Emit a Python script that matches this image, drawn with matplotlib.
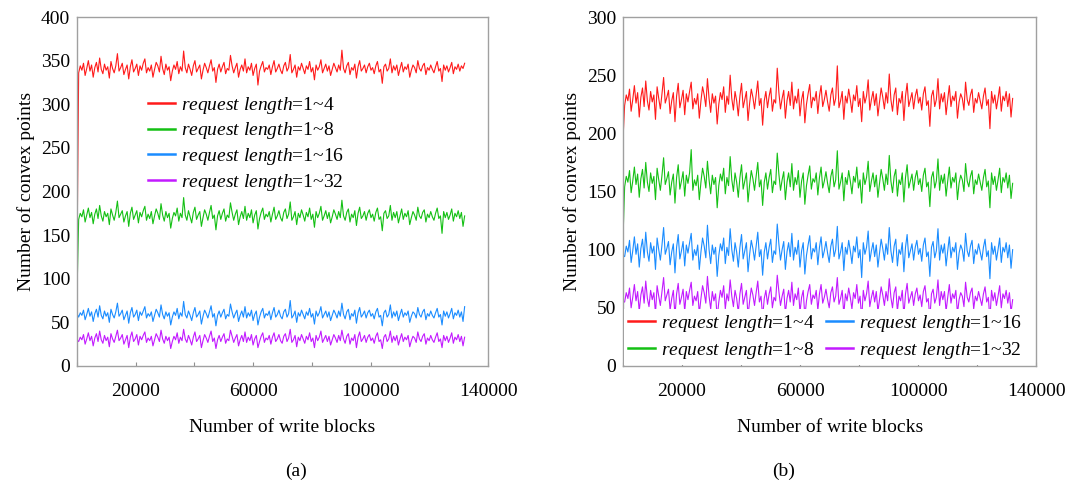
import numpy as np
import matplotlib
matplotlib.use("Agg")
import matplotlib.pyplot as plt

plt.rcParams['font.family'] = ['Liberation Serif', 'DejaVu Serif']
plt.rcParams['mathtext.fontset'] = 'custom'
plt.rcParams['mathtext.it'] = 'Liberation Serif:italic'
plt.rcParams['mathtext.rm'] = 'Liberation Serif'

x_end = 132000

labels = ['1~4', '1~8', '1~16', '1~32']
colors = ['#ff1a1a', '#14c014', '#1a8cff', '#c21aff']

# ---- panel (a) ----
a_red = [130,
 336,344,339,347,333,341,350,338,345,331,342,348,337,353,340,335,346,339,343,330,
 349,341,336,344,358,338,342,347,334,340,345,329,343,351,337,341,346,333,344,339,
 347,352,336,342,338,345,331,340,348,344,337,355,341,334,346,339,343,327,338,345,
 340,349,335,343,338,361,342,336,346,340,333,344,350,337,341,345,329,339,347,342,
 336,344,351,338,342,325,340,346,337,343,348,335,341,339,356,344,336,342,347,331,
 340,345,338,352,336,343,339,347,333,341,346,322,338,344,349,337,342,340,345,334,
 343,350,337,341,346,339,335,344,348,338,342,357,336,340,345,331,343,339,347,341,
 335,344,340,349,337,342,328,345,339,343,351,336,341,346,338,344,333,340,347,342,
 337,345,339,362,341,336,344,348,334,342,339,346,330,343,350,338,341,345,336,343,
 347,339,342,335,344,349,337,340,324,343,346,338,341,352,336,344,339,345,333,341,
 348,337,343,340,346,331,339,345,342,336,350,341,338,344,347,334,342,339,345,340,
 336,343,349,338,341,326,345,339,344,337,342,348,335,343,340,346,338,344,341,347]
a_green = [85,
 168,175,171,179,165,173,181,170,176,163,174,180,169,184,172,166,177,171,175,162,
 180,173,167,176,189,170,174,178,165,172,177,160,175,182,168,173,178,164,176,171,
 178,183,167,174,169,177,163,172,180,175,168,186,173,166,177,170,175,158,169,176,
 172,181,166,175,170,193,173,167,178,171,164,176,182,168,173,177,160,170,179,174,
 167,176,184,169,173,156,172,178,168,175,180,166,173,170,187,176,167,174,179,162,
 171,177,169,183,167,175,170,179,164,173,178,157,169,176,181,168,174,171,177,165,
 174,182,168,172,178,170,166,176,180,169,174,188,167,171,177,162,175,170,179,173,
 166,176,171,181,168,174,159,177,170,175,183,167,172,178,169,176,164,171,179,174,
 168,177,170,190,172,167,176,180,165,174,170,178,161,175,182,169,172,177,167,175,
 179,170,174,166,176,181,168,171,155,175,178,169,172,184,167,176,170,177,164,172,
 180,168,175,171,178,162,170,177,173,167,182,172,169,176,179,165,174,170,177,171,
 167,175,181,169,172,152,177,170,176,168,173,180,166,175,171,178,169,176,160,172]
a_blue = [60,
 56,61,58,64,53,59,66,57,62,51,60,65,56,69,58,54,63,57,61,50,
 65,59,55,62,72,57,60,64,53,58,63,49,61,67,56,59,64,52,62,58,
 63,68,55,60,57,62,51,58,65,61,56,70,59,54,62,57,61,47,56,62,
 58,66,54,61,57,74,59,55,63,58,52,61,67,56,59,63,48,57,64,60,
 55,62,69,56,60,46,58,63,56,61,65,54,59,57,71,62,55,60,64,51,
 58,63,56,68,55,61,57,64,52,59,63,47,56,62,66,55,60,58,63,53,
 61,67,56,59,64,57,54,62,65,56,60,75,55,58,63,50,61,57,64,59,
 54,62,58,66,56,60,48,63,57,61,68,55,59,63,56,62,52,58,64,60,
 55,63,57,72,59,54,62,65,53,60,57,64,49,61,67,56,59,63,55,61,
 64,57,60,54,62,66,56,58,46,61,64,56,59,70,55,62,57,63,52,59,
 65,56,61,58,63,50,57,62,60,55,67,59,56,62,65,53,60,57,63,58,
 55,61,66,56,59,47,63,57,62,55,60,66,54,61,58,64,56,62,51,68]
a_purple = [30,
 28,33,30,36,25,31,38,29,34,23,32,37,28,40,30,26,35,29,33,22,
 37,31,27,34,41,29,32,36,25,30,35,21,33,39,28,31,36,24,34,30,
 35,39,27,32,29,34,23,30,37,33,28,41,31,26,34,29,33,20,28,34,
 30,38,26,33,29,42,31,27,35,30,24,33,39,28,31,35,21,29,36,32,
 27,34,40,28,32,20,30,35,28,33,37,26,31,29,41,34,27,32,36,23,
 30,35,28,39,27,33,29,36,24,31,35,21,28,34,38,27,32,30,35,25,
 33,38,28,31,36,29,26,34,37,28,32,42,27,30,35,22,33,29,36,31,
 26,34,30,38,28,32,21,35,29,33,40,27,31,35,28,34,24,30,36,32,
 27,35,29,41,31,26,34,37,25,32,29,36,21,33,39,28,31,35,27,33,
 36,29,32,26,34,38,28,30,20,33,36,28,31,40,27,34,29,35,24,31,
 37,28,33,30,35,22,29,34,32,27,39,31,28,34,37,25,32,29,35,30,
 27,33,38,28,31,21,35,29,34,27,32,38,26,33,30,36,28,34,23,33]

# ---- panel (b) ----
b_red = [195,
 224,233,228,238,219,229,241,226,235,214,231,239,223,245,228,220,236,227,233,212,
 240,230,221,234,248,226,231,237,217,228,235,210,232,243,222,229,237,216,234,227,
 236,244,221,230,225,234,213,228,240,233,223,247,230,218,234,226,232,208,225,235,
 229,240,218,232,225,250,230,220,236,228,215,232,243,222,229,236,211,226,238,231,
 221,233,245,224,230,207,228,236,222,232,239,219,229,226,256,235,221,230,237,213,
 228,236,224,244,221,232,226,238,215,229,236,209,225,234,242,222,231,228,236,217,
 232,241,223,229,237,227,219,233,239,224,230,258,222,228,236,212,232,226,238,229,
 218,233,228,241,223,230,210,236,226,232,246,220,229,236,224,234,215,227,239,231,
 221,235,226,251,229,219,233,239,216,230,226,236,211,232,243,223,229,235,221,232,
 238,226,231,220,234,240,224,228,206,232,237,223,229,247,221,234,227,235,216,229,
 241,223,232,228,236,213,227,234,230,220,244,229,224,233,238,218,230,226,235,228,
 221,232,239,224,229,204,236,226,233,221,230,240,219,232,228,236,223,234,214,230]
b_green = [110,
 154,163,158,168,149,159,171,156,165,145,161,169,153,175,158,150,166,157,163,143,
 170,160,151,164,179,156,161,167,147,158,165,140,162,173,152,159,167,146,164,157,
 166,186,151,160,155,164,143,158,170,163,153,176,160,148,164,156,162,136,155,165,
 159,170,148,162,155,180,160,150,166,158,145,162,173,152,159,166,141,156,168,161,
 151,163,175,154,160,138,158,166,152,162,169,149,159,156,183,165,151,160,167,143,
 158,166,154,174,151,162,156,168,145,159,166,139,155,164,172,152,161,158,166,147,
 162,171,153,159,167,157,149,163,169,154,160,185,152,158,166,142,162,156,168,159,
 148,163,158,171,153,160,140,166,156,162,176,150,159,166,154,164,145,157,169,161,
 151,165,156,181,159,149,163,169,146,160,156,166,141,162,173,153,159,165,151,162,
 168,156,161,150,164,170,154,158,137,162,167,153,159,178,151,164,157,165,146,159,
 171,153,162,158,166,143,157,164,160,150,174,159,154,163,168,148,160,156,165,158,
 151,162,169,154,159,136,166,156,163,151,160,170,149,162,158,166,153,164,144,157]
b_blue = [95,
 94,103,98,108,89,99,111,96,105,85,101,109,93,115,98,90,106,97,103,83,
 110,100,91,104,119,96,101,107,87,98,105,80,102,113,92,99,107,86,104,97,
 106,114,91,100,95,104,83,98,110,103,93,121,100,88,104,96,102,77,95,105,
 99,110,88,102,95,118,100,90,106,98,85,102,113,92,99,106,81,96,108,101,
 91,103,115,94,100,78,98,106,92,102,109,89,99,96,122,105,91,100,107,83,
 98,106,94,114,91,102,96,108,85,99,106,79,95,104,112,92,101,98,106,87,
 102,111,93,99,107,97,89,103,109,94,100,120,92,98,106,82,102,96,108,99,
 88,103,98,111,93,100,76,106,96,102,116,90,99,106,94,104,85,97,109,101,
 91,105,96,119,99,89,103,109,86,100,96,106,81,102,113,93,99,105,91,102,
 108,96,101,90,104,110,94,98,77,102,107,93,99,118,91,104,97,105,86,99,
 111,93,102,98,106,83,97,104,100,90,114,99,94,103,108,88,100,96,105,98,
 91,102,109,94,99,75,106,96,103,91,100,110,89,102,98,106,93,104,84,100]
b_purple = [55,
 55,63,58,67,50,59,70,56,64,47,61,68,54,73,58,51,65,57,63,45,
 69,60,52,64,76,56,61,66,48,58,65,43,62,71,53,59,66,47,64,57,
 65,72,52,60,56,64,45,58,69,63,54,77,60,49,64,56,62,41,55,65,
 59,69,49,62,56,74,60,51,65,58,46,62,71,53,59,65,43,56,67,61,
 52,63,73,55,60,42,58,65,53,62,68,50,59,56,78,64,52,60,66,45,
 58,65,55,72,52,62,57,67,46,59,65,42,56,64,70,53,61,58,65,48,
 62,70,54,59,66,57,50,63,68,55,60,76,53,58,65,44,62,56,67,59,
 49,63,58,70,54,60,40,65,56,62,73,51,59,65,55,64,47,57,68,61,
 52,64,56,75,59,50,63,68,47,60,56,65,43,62,71,54,59,64,52,62,
 67,56,61,51,64,69,55,58,41,62,66,54,59,74,52,64,57,64,47,59,
 70,54,62,58,65,45,57,63,60,51,72,59,55,63,67,49,60,56,64,58,
 52,62,68,55,59,40,65,56,63,52,60,69,50,62,58,65,54,63,46,57]

x_ticks = [0, 20000, 40000, 60000, 80000, 100000, 120000, 140000]
x_ticklabels = ['', '20000', '', '60000', '', '100000', '', '140000']
a_yticks = [0, 50, 100, 150, 200, 250, 300, 350, 400]
b_yticks = [0, 50, 100, 150, 200, 250, 300]

fig = plt.figure(figsize=(10.79, 4.86), dpi=100)
axA = fig.add_axes([0.0714, 0.247, 0.381, 0.718])
axB = fig.add_axes([0.5774, 0.247, 0.383, 0.718])

fs = 14
def style(ax, yticks):
    for s in ax.spines.values():
        s.set_color('#a0a0a0')
        s.set_linewidth(1.0)
        s.set_zorder(5)
    ax.set_xlim(0, 140000)
    ax.set_ylim(yticks[0], yticks[-1])
    ax.set_xticks(x_ticks)
    ax.set_xticklabels(x_ticklabels)
    ax.set_yticks(yticks)
    ax.tick_params(axis='x', direction='in', length=3, color='#909090',
                   labelsize=fs, pad=12)
    ax.tick_params(axis='y', length=0, labelsize=fs, pad=5)
    ax.set_xlabel('Number of write blocks', fontsize=fs, labelpad=14)
    ax.set_ylabel('Number of convex points', fontsize=fs, labelpad=4)

def plot(ax, series):
    n = len(series[0])
    xs = np.linspace(0, x_end, n)
    handles = []
    for ys, c, lab in zip(series, colors, labels):
        h, = ax.plot(xs, ys, color=c, lw=0.8,
                     label=r'$\mathit{request\ length}$=' + lab)
        handles.append(h)
    return handles

hA = plot(axA, [a_red, a_green, a_blue, a_purple])
style(axA, a_yticks)
legA = axA.legend(handles=hA, loc='upper left', bbox_to_anchor=(0.153, 0.80),
                  frameon=False, fontsize=fs, handlelength=1.4,
                  handletextpad=0.3, labelspacing=0.25, borderaxespad=0)
for l in legA.get_lines():
    l.set_linewidth(1.8)

hB = plot(axB, [b_red, b_green, b_blue, b_purple])
style(axB, b_yticks)
legB = axB.legend(handles=hB, ncol=2,
                  loc='lower left', bbox_to_anchor=(0.0, 0.0),
                  frameon=True, fontsize=fs, handlelength=1.4,
                  handletextpad=0.3, labelspacing=0.3, columnspacing=0.6,
                  borderaxespad=0.05, borderpad=0.2, fancybox=False)
legB.get_frame().set_facecolor('white')
legB.get_frame().set_edgecolor('none')
legB.get_frame().set_alpha(1.0)
for l in legB.get_lines():
    l.set_linewidth(1.8)

fig.text(296 / 1079, 1 - 471 / 486, '(a)', ha='center', va='center', fontsize=fs)
fig.text(784 / 1079, 1 - 471 / 486, '(b)', ha='center', va='center', fontsize=fs)

fig.savefig('out.png', dpi=100, facecolor='white')
